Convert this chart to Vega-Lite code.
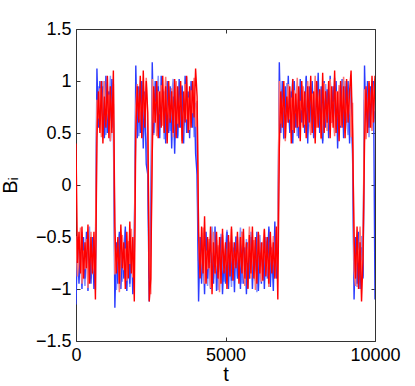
{
"$schema": "https://vega.github.io/schema/vega-lite/v6.json",
"width": 299, "height": 312,
"autosize": "none",
"padding": {"left": 76, "top": 29, "right": 40, "bottom": 45},
"background": "white",
"config": {"view": {"stroke": null}, "font": "Liberation Sans", "axis": {"grid": false, "domainColor": "#333", "tickColor": "#333", "domainWidth": 1, "tickWidth": 1, "labelColor": "black", "titleColor": "black", "labelFont": "Liberation Sans", "titleFont": "Liberation Sans", "titleFontWeight": "normal"}},
"data": {"values": [
{"t":0,"b":-1.15,"r":0.4,"b2":-0.73,"r2":-0.49},
{"t":50,"b":-0.55,"r":-0.75,"b2":-0.5,"r2":-0.88},
{"t":100,"b":-0.95,"r":-0.45,"b2":-0.87,"r2":-0.69},
{"t":150,"b":-0.6,"r":-0.85,"b2":-0.62,"r2":-0.41},
{"t":200,"b":-1.0,"r":-0.4,"b2":-0.45,"r2":-0.95},
{"t":250,"b":-0.5,"r":-0.9,"b2":-0.83,"r2":-0.63},
{"t":300,"b":-0.9,"r":-0.55,"b2":-0.97,"r2":-0.81},
{"t":350,"b":-0.45,"r":-0.8,"b2":-0.57,"r2":-0.52},
{"t":400,"b":-1.02,"r":-0.38,"b2":-0.75,"r2":-0.99},
{"t":450,"b":-0.65,"r":-0.95,"b2":-0.4,"r2":-0.66},
{"t":500,"b":-0.95,"r":-0.5,"b2":-0.9,"r2":-0.45},
{"t":550,"b":-0.5,"r":-0.85,"b2":-0.67,"r2":-0.86},
{"t":600,"b":-1.0,"r":-0.45,"b2":-0.53,"r2":-0.74},
{"t":650,"b":-0.7,"r":-1.1,"b2":-1.01,"r2":-0.58},
{"t":700,"b":1.12,"r":0.45,"b2":0.72,"r2":0.82},
{"t":750,"b":0.55,"r":0.9,"b2":0.95,"r2":0.64},
{"t":800,"b":1.0,"r":0.5,"b2":0.58,"r2":0.93},
{"t":850,"b":0.6,"r":1.0,"b2":0.83,"r2":0.46},
{"t":900,"b":0.95,"r":0.4,"b2":1.0,"r2":0.79},
{"t":950,"b":0.45,"r":0.85,"b2":0.62,"r2":1.0},
{"t":1000,"b":1.05,"r":0.55,"b2":0.48,"r2":0.59},
{"t":1050,"b":0.5,"r":1.05,"b2":0.88,"r2":0.71},
{"t":1100,"b":0.9,"r":0.45,"b2":0.7,"r2":0.87},
{"t":1150,"b":0.42,"r":0.95,"b2":1.05,"r2":0.42},
{"t":1200,"b":1.02,"r":0.5,"b2":0.55,"r2":0.75},
{"t":1250,"b":0.6,"r":1.1,"b2":0.78,"r2":0.97},
{"t":1300,"b":-1.18,"r":-0.4,"b2":-0.53,"r2":-0.86},
{"t":1350,"b":-0.55,"r":-0.85,"b2":-1.01,"r2":-0.74},
{"t":1400,"b":-0.95,"r":-0.5,"b2":-0.79,"r2":-0.58},
{"t":1450,"b":-0.45,"r":-0.95,"b2":-0.47,"r2":-1.03},
{"t":1500,"b":-1.0,"r":-0.38,"b2":-0.71,"r2":-0.7},
{"t":1550,"b":-0.6,"r":-0.8,"b2":-0.93,"r2":-0.48},
{"t":1600,"b":-0.9,"r":-0.55,"b2":-0.59,"r2":-0.82},
{"t":1650,"b":-0.4,"r":-1.0,"b2":-0.43,"r2":-0.61},
{"t":1700,"b":-1.02,"r":-0.45,"b2":-0.85,"r2":-0.92},
{"t":1750,"b":-0.55,"r":-0.9,"b2":-0.65,"r2":-0.54},
{"t":1800,"b":-0.95,"r":-0.35,"b2":-0.98,"r2":-0.76},
{"t":1850,"b":-0.5,"r":-0.85,"b2":-0.55,"r2":-0.42},
{"t":1900,"b":-1.05,"r":-0.5,"b2":-0.77,"r2":-0.89},
{"t":1950,"b":-0.65,"r":-1.12,"b2":-0.49,"r2":-0.64},
{"t":2000,"b":1.15,"r":0.5,"b2":0.6,"r2":0.75},
{"t":2050,"b":0.45,"r":0.95,"b2":0.8,"r2":0.97},
{"t":2100,"b":0.95,"r":0.6,"b2":0.47,"r2":0.63},
{"t":2150,"b":0.5,"r":1.05,"b2":0.9,"r2":0.84},
{"t":2200,"b":1.0,"r":0.45,"b2":0.68,"r2":0.53},
{"t":2250,"b":0.35,"r":1.1,"b2":0.96,"r2":0.91},
{"t":2300,"b":0.9,"r":0.55,"b2":0.57,"r2":0.69},
{"t":2350,"b":0.2,"r":1.0,"b2":0.4,"r2":1.03},
{"t":2400,"b":0.1,"r":0.7,"b2":0.25,"r2":0.56},
{"t":2450,"b":-1.12,"r":-1.12,"b2":-0.9,"r2":-0.7},
{"t":2500,"b":-0.3,"r":-0.9,"b2":-0.6,"r2":-1.05},
{"t":2550,"b":1.18,"r":0.3,"b2":0.62,"r2":1.02},
{"t":2600,"b":0.5,"r":0.95,"b2":0.48,"r2":0.6},
{"t":2650,"b":1.0,"r":0.6,"b2":0.88,"r2":0.8},
{"t":2700,"b":0.55,"r":1.0,"b2":0.7,"r2":0.47},
{"t":2750,"b":0.95,"r":0.45,"b2":1.05,"r2":0.9},
{"t":2800,"b":0.45,"r":0.9,"b2":0.55,"r2":0.68},
{"t":2850,"b":1.05,"r":0.55,"b2":0.78,"r2":0.96},
{"t":2900,"b":0.6,"r":1.05,"b2":0.92,"r2":0.57},
{"t":2950,"b":0.9,"r":0.5,"b2":0.44,"r2":0.76},
{"t":3000,"b":0.4,"r":0.95,"b2":0.66,"r2":1.04},
{"t":3050,"b":1.0,"r":0.4,"b2":0.98,"r2":0.5},
{"t":3100,"b":0.5,"r":1.0,"b2":0.74,"r2":0.82},
{"t":3150,"b":0.95,"r":0.6,"b2":0.52,"r2":0.64},
{"t":3200,"b":0.35,"r":0.9,"b2":0.86,"r2":0.93},
{"t":3250,"b":0.85,"r":0.5,"b2":1.02,"r2":0.46},
{"t":3300,"b":0.3,"r":1.02,"b2":0.6,"r2":0.79},
{"t":3350,"b":0.9,"r":0.45,"b2":0.8,"r2":1.0},
{"t":3400,"b":0.45,"r":0.95,"b2":0.47,"r2":0.59},
{"t":3450,"b":1.02,"r":0.55,"b2":0.9,"r2":0.71},
{"t":3500,"b":0.55,"r":1.0,"b2":0.68,"r2":0.87},
{"t":3550,"b":0.95,"r":0.4,"b2":0.96,"r2":0.42},
{"t":3600,"b":0.4,"r":0.9,"b2":0.57,"r2":0.75},
{"t":3650,"b":1.05,"r":0.6,"b2":0.76,"r2":0.97},
{"t":3700,"b":0.5,"r":1.05,"b2":1.04,"r2":0.63},
{"t":3750,"b":0.9,"r":0.5,"b2":0.5,"r2":0.84},
{"t":3800,"b":0.45,"r":0.95,"b2":0.82,"r2":0.53},
{"t":3850,"b":1.0,"r":0.55,"b2":0.64,"r2":0.91},
{"t":3900,"b":0.55,"r":1.0,"b2":0.93,"r2":0.69},
{"t":3950,"b":0.95,"r":0.65,"b2":0.46,"r2":1.03},
{"t":4000,"b":0.3,"r":1.12,"b2":0.79,"r2":0.56},
{"t":4050,"b":0.1,"r":0.85,"b2":0.2,"r2":0.81},
{"t":4100,"b":-1.12,"r":-0.45,"b2":-0.73,"r2":-0.49},
{"t":4150,"b":-0.5,"r":-0.9,"b2":-0.5,"r2":-0.88},
{"t":4200,"b":-0.95,"r":-0.4,"b2":-0.87,"r2":-0.69},
{"t":4250,"b":-0.6,"r":-0.85,"b2":-0.62,"r2":-0.41},
{"t":4300,"b":-1.05,"r":-0.3,"b2":-0.45,"r2":-0.95},
{"t":4350,"b":-0.45,"r":-0.95,"b2":-0.83,"r2":-0.63},
{"t":4400,"b":-0.9,"r":-0.5,"b2":-0.97,"r2":-0.81},
{"t":4450,"b":-0.55,"r":-0.8,"b2":-0.57,"r2":-0.52},
{"t":4500,"b":-1.0,"r":-0.4,"b2":-0.75,"r2":-0.99},
{"t":4550,"b":-0.65,"r":-1.05,"b2":-0.4,"r2":-0.66},
{"t":4600,"b":-0.95,"r":-0.55,"b2":-0.9,"r2":-0.45},
{"t":4650,"b":-0.4,"r":-0.85,"b2":-0.67,"r2":-0.86},
{"t":4700,"b":-1.02,"r":-0.45,"b2":-0.53,"r2":-0.74},
{"t":4750,"b":-0.6,"r":-0.9,"b2":-1.01,"r2":-0.58},
{"t":4800,"b":-0.9,"r":-0.5,"b2":-0.79,"r2":-1.03},
{"t":4850,"b":-0.5,"r":-0.95,"b2":-0.47,"r2":-0.7},
{"t":4900,"b":-1.05,"r":-0.42,"b2":-0.71,"r2":-0.48},
{"t":4950,"b":-0.7,"r":-0.85,"b2":-0.93,"r2":-0.82},
{"t":5000,"b":-0.95,"r":-0.55,"b2":-0.59,"r2":-0.61},
{"t":5050,"b":-0.45,"r":-1.0,"b2":-0.43,"r2":-0.92},
{"t":5100,"b":-1.0,"r":-0.48,"b2":-0.85,"r2":-0.54},
{"t":5150,"b":-0.55,"r":-0.88,"b2":-0.65,"r2":-0.76},
{"t":5200,"b":-0.92,"r":-0.4,"b2":-0.98,"r2":-0.42},
{"t":5250,"b":-0.6,"r":-0.92,"b2":-0.55,"r2":-0.89},
{"t":5300,"b":-1.03,"r":-0.55,"b2":-0.77,"r2":-0.64},
{"t":5350,"b":-0.5,"r":-0.8,"b2":-0.49,"r2":-0.73},
{"t":5400,"b":-0.9,"r":-0.45,"b2":-0.88,"r2":-0.5},
{"t":5450,"b":-0.65,"r":-0.95,"b2":-0.69,"r2":-0.87},
{"t":5500,"b":-1.0,"r":-0.5,"b2":-0.41,"r2":-0.62},
{"t":5550,"b":-0.45,"r":-0.85,"b2":-0.95,"r2":-0.45},
{"t":5600,"b":-0.95,"r":-0.42,"b2":-0.63,"r2":-0.83},
{"t":5650,"b":-0.6,"r":-0.9,"b2":-0.81,"r2":-0.97},
{"t":5700,"b":-1.05,"r":-0.55,"b2":-0.52,"r2":-0.57},
{"t":5750,"b":-0.55,"r":-1.0,"b2":-0.99,"r2":-0.75},
{"t":5800,"b":-0.9,"r":-0.48,"b2":-0.66,"r2":-0.4},
{"t":5850,"b":-0.5,"r":-0.85,"b2":-0.45,"r2":-0.9},
{"t":5900,"b":-1.0,"r":-0.4,"b2":-0.86,"r2":-0.67},
{"t":5950,"b":-0.6,"r":-0.9,"b2":-0.74,"r2":-0.53},
{"t":6000,"b":-0.92,"r":-0.5,"b2":-0.58,"r2":-1.01},
{"t":6050,"b":-0.45,"r":-0.95,"b2":-1.03,"r2":-0.79},
{"t":6100,"b":-1.02,"r":-0.45,"b2":-0.7,"r2":-0.47},
{"t":6150,"b":-0.65,"r":-0.85,"b2":-0.48,"r2":-0.71},
{"t":6200,"b":-0.95,"r":-0.55,"b2":-0.82,"r2":-0.93},
{"t":6250,"b":-0.55,"r":-0.92,"b2":-0.61,"r2":-0.59},
{"t":6300,"b":-1.0,"r":-0.42,"b2":-0.92,"r2":-0.43},
{"t":6350,"b":-0.5,"r":-0.88,"b2":-0.54,"r2":-0.85},
{"t":6400,"b":-0.9,"r":-0.5,"b2":-0.76,"r2":-0.65},
{"t":6450,"b":-0.4,"r":-0.95,"b2":-0.42,"r2":-0.98},
{"t":6500,"b":-0.98,"r":-0.45,"b2":-0.89,"r2":-0.55},
{"t":6550,"b":-0.6,"r":-0.85,"b2":-0.64,"r2":-0.77},
{"t":6600,"b":-1.02,"r":-0.55,"b2":-0.73,"r2":-0.49},
{"t":6650,"b":-0.35,"r":-0.9,"b2":-0.5,"r2":-0.88},
{"t":6700,"b":-0.9,"r":-0.4,"b2":-0.87,"r2":-0.69},
{"t":6750,"b":-0.55,"r":-1.1,"b2":-0.62,"r2":-0.41},
{"t":6800,"b":1.18,"r":0.35,"b2":0.55,"r2":1.0},
{"t":6850,"b":0.5,"r":0.9,"b2":0.78,"r2":0.59},
{"t":6900,"b":1.0,"r":0.55,"b2":0.92,"r2":0.71},
{"t":6950,"b":0.45,"r":1.0,"b2":0.44,"r2":0.87},
{"t":7000,"b":0.95,"r":0.45,"b2":0.66,"r2":0.42},
{"t":7050,"b":0.6,"r":0.85,"b2":0.98,"r2":0.75},
{"t":7100,"b":1.05,"r":0.6,"b2":0.74,"r2":0.97},
{"t":7150,"b":0.5,"r":0.95,"b2":0.52,"r2":0.63},
{"t":7200,"b":0.9,"r":0.4,"b2":0.86,"r2":0.84},
{"t":7250,"b":0.4,"r":1.02,"b2":1.02,"r2":0.53},
{"t":7300,"b":1.0,"r":0.5,"b2":0.6,"r2":0.91},
{"t":7350,"b":0.55,"r":0.88,"b2":0.8,"r2":0.69},
{"t":7400,"b":0.95,"r":0.55,"b2":0.47,"r2":1.03},
{"t":7450,"b":0.45,"r":0.95,"b2":0.9,"r2":0.56},
{"t":7500,"b":1.02,"r":0.42,"b2":0.68,"r2":0.81},
{"t":7550,"b":0.6,"r":1.0,"b2":0.96,"r2":0.72},
{"t":7600,"b":0.9,"r":0.55,"b2":0.57,"r2":0.95},
{"t":7650,"b":0.5,"r":0.9,"b2":0.76,"r2":0.58},
{"t":7700,"b":1.05,"r":0.45,"b2":1.04,"r2":0.83},
{"t":7750,"b":0.4,"r":0.95,"b2":0.5,"r2":1.0},
{"t":7800,"b":0.95,"r":0.6,"b2":0.82,"r2":0.62},
{"t":7850,"b":0.55,"r":1.05,"b2":0.64,"r2":0.48},
{"t":7900,"b":1.0,"r":0.5,"b2":0.93,"r2":0.88},
{"t":7950,"b":0.45,"r":0.9,"b2":0.46,"r2":0.7},
{"t":8000,"b":0.9,"r":0.4,"b2":0.79,"r2":1.05},
{"t":8050,"b":0.6,"r":1.0,"b2":1.0,"r2":0.55},
{"t":8100,"b":1.08,"r":0.55,"b2":0.59,"r2":0.78},
{"t":8150,"b":0.5,"r":0.92,"b2":0.71,"r2":0.92},
{"t":8200,"b":0.95,"r":0.45,"b2":0.87,"r2":0.44},
{"t":8250,"b":0.4,"r":1.08,"b2":0.42,"r2":0.66},
{"t":8300,"b":1.0,"r":0.5,"b2":0.75,"r2":0.98},
{"t":8350,"b":0.55,"r":0.9,"b2":0.97,"r2":0.74},
{"t":8400,"b":0.92,"r":0.6,"b2":0.63,"r2":0.52},
{"t":8450,"b":0.45,"r":1.0,"b2":0.84,"r2":0.86},
{"t":8500,"b":1.05,"r":0.45,"b2":0.53,"r2":1.02},
{"t":8550,"b":0.6,"r":0.95,"b2":0.91,"r2":0.6},
{"t":8600,"b":0.95,"r":0.55,"b2":0.69,"r2":0.8},
{"t":8650,"b":0.5,"r":1.1,"b2":1.03,"r2":0.47},
{"t":8700,"b":1.0,"r":0.5,"b2":0.56,"r2":0.9},
{"t":8750,"b":0.35,"r":0.9,"b2":0.81,"r2":0.68},
{"t":8800,"b":0.9,"r":0.42,"b2":0.72,"r2":0.96},
{"t":8850,"b":0.55,"r":1.0,"b2":0.95,"r2":0.57},
{"t":8900,"b":1.02,"r":0.55,"b2":0.58,"r2":0.76},
{"t":8950,"b":0.45,"r":0.95,"b2":0.83,"r2":1.04},
{"t":9000,"b":0.95,"r":0.45,"b2":1.0,"r2":0.5},
{"t":9050,"b":0.6,"r":1.02,"b2":0.62,"r2":0.82},
{"t":9100,"b":1.0,"r":0.6,"b2":0.48,"r2":0.64},
{"t":9150,"b":0.4,"r":0.9,"b2":0.88,"r2":0.93},
{"t":9200,"b":0.95,"r":1.1,"b2":0.7,"r2":0.46},
{"t":9250,"b":0.3,"r":0.5,"b2":0.35,"r2":0.79},
{"t":9300,"b":-1.1,"r":-0.5,"b2":-0.85,"r2":-0.83},
{"t":9350,"b":-0.5,"r":-0.9,"b2":-0.65,"r2":-0.97},
{"t":9400,"b":-0.95,"r":-0.4,"b2":-0.98,"r2":-0.57},
{"t":9450,"b":-0.45,"r":-1.0,"b2":-0.55,"r2":-0.75},
{"t":9500,"b":-1.0,"r":-0.55,"b2":-0.77,"r2":-0.4},
{"t":9550,"b":-0.6,"r":-1.12,"b2":-0.49,"r2":-0.9},
{"t":9600,"b":-0.9,"r":-0.7,"b2":-0.88,"r2":-0.67},
{"t":9650,"b":1.15,"r":0.4,"b2":0.82,"r2":0.92},
{"t":9700,"b":0.5,"r":0.95,"b2":0.64,"r2":0.44},
{"t":9750,"b":1.0,"r":0.5,"b2":0.93,"r2":0.66},
{"t":9800,"b":0.55,"r":1.0,"b2":0.46,"r2":0.98},
{"t":9850,"b":0.95,"r":0.55,"b2":0.79,"r2":0.74},
{"t":9900,"b":0.6,"r":1.05,"b2":1.0,"r2":0.52},
{"t":9950,"b":1.0,"r":0.6,"b2":0.59,"r2":0.86},
{"t":10000,"b":-1.1,"r":1.05,"b2":0.71,"r2":1.02}
]},
"layer": [
{"mark": {"type": "line", "color": "#8793ff", "strokeWidth": 1.5, "clip": true},
 "encoding": {
  "x": {"field": "t", "type": "quantitative", "scale": {"domain": [0, 10000], "nice": false},
        "axis": {"orient": "bottom", "values": [0, 5000, 10000], "format": "d", "tickSize": -4, "labelPadding": 9, "labelFontSize": 18, "labelFlush": false, "title": "t", "titleFontSize": 20, "titlePadding": 0}},
  "y": {"field": "b2", "type": "quantitative", "scale": {"domain": [-1.5, 1.5], "nice": false},
        "axis": {"orient": "left", "values": [-1.5, -1, -0.5, 0, 0.5, 1, 1.5], "format": "~g", "tickSize": -4, "labelPadding": 9, "labelFontSize": 18, "labelFlush": false, "title": "Bᵢ", "titleFontSize": 20, "titlePadding": 15}}
 }},
{"mark": {"type": "line", "color": "#2b3cff", "strokeWidth": 1.4, "clip": true},
 "encoding": {
  "x": {"field": "t", "type": "quantitative", "scale": {"domain": [0, 10000], "nice": false},
        "axis": {"orient": "top", "values": [0, 5000, 10000], "tickSize": -4, "labels": false, "title": null}},
  "y": {"field": "b", "type": "quantitative", "scale": {"domain": [-1.5, 1.5], "nice": false},
        "axis": {"orient": "right", "values": [-1.5, -1, -0.5, 0, 0.5, 1, 1.5], "tickSize": -4, "labels": false, "title": null}}
 }},
{"mark": {"type": "line", "color": "#ff7474", "strokeWidth": 1.5, "clip": true},
 "encoding": {
  "x": {"field": "t", "type": "quantitative", "scale": {"domain": [0, 10000], "nice": false}, "axis": null},
  "y": {"field": "r2", "type": "quantitative", "scale": {"domain": [-1.5, 1.5], "nice": false}, "axis": null}
 }},
{"mark": {"type": "line", "color": "#ff0000", "strokeWidth": 1.4, "clip": true},
 "encoding": {
  "x": {"field": "t", "type": "quantitative", "scale": {"domain": [0, 10000], "nice": false}, "axis": null},
  "y": {"field": "r", "type": "quantitative", "scale": {"domain": [-1.5, 1.5], "nice": false}, "axis": null}
 }}
],
"resolve": {"axis": {"x": "independent", "y": "independent"}}
}
